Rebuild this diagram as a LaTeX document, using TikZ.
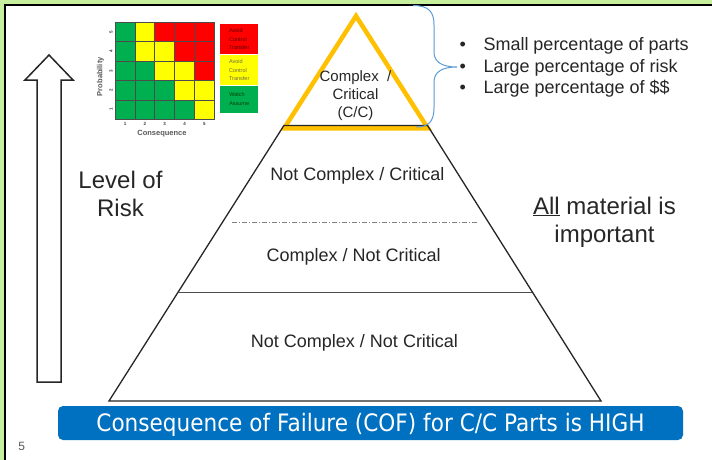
\documentclass[tikz,border=0pt]{standalone}
\usepackage{fontspec}
\setmainfont{Liberation Sans}
\newfontfamily\bannerfont[FakeStretch=0.9]{DejaVu Sans}
\usetikzlibrary{positioning}

\definecolor{frameGreen}{RGB}{198,239,158}
\definecolor{goldline}{RGB}{255,192,0}
\definecolor{bannerblue}{RGB}{0,112,192}
\definecolor{bracecol}{RGB}{91,155,213}
\definecolor{mgreen}{RGB}{0,176,80}
\definecolor{myellow}{RGB}{255,255,0}
\definecolor{mred}{RGB}{255,0,0}

\begin{document}
\begin{tikzpicture}[x=1pt,y=-1pt,
  pyrtxt/.style={font=\fontsize{18}{21}\selectfont, text=black!85, inner sep=0pt, anchor=base},
  bigtxt/.style={font=\fontsize{24}{28}\selectfont, text=black!85, inner sep=0pt, align=center},
  axlbl/.style={font=\fontsize{7.5}{9}\selectfont\bfseries, text=black!65, inner sep=0pt},
  ticklbl/.style={font=\fontsize{4.5}{5}\selectfont\bfseries, text=black!75, inner sep=0pt},
  legbox/.style={minimum width=38.3pt, inner sep=0pt, align=left, font=\fontsize{5.5}{8.5}\selectfont}]
\useasboundingbox (0,0) rectangle (712,460);
% slide frame
\fill[frameGreen] (0,0) rectangle (712,460);
\fill[white] (5,5) rectangle (712,460);
\draw[line width=2pt] (5,460) -- (5,5) -- (712,5);

% risk matrix
\fill[mgreen] (115,22.3) rectangle (214.3,119.3);
\fill[myellow] (134.9,22.3) rectangle (154.7,41.7);
\fill[mred] (154.7,22.3) rectangle (214.3,41.7);
\fill[myellow] (134.9,41.7) rectangle (174.6,61.1);
\fill[mred] (174.6,41.7) rectangle (214.3,61.1);
\fill[myellow] (154.7,61.1) rectangle (194.4,80.5);
\fill[mred] (194.4,61.1) rectangle (214.3,80.5);
\fill[myellow] (174.6,80.5) rectangle (214.3,99.9);
\fill[myellow] (194.4,99.9) rectangle (214.3,119.3);
\draw[black!70, line width=0.6pt] (115,22.3) rectangle (214.3,119.3);
\draw[black!70, line width=0.6pt] (134.9,22.3) -- (134.9,119.3);
\draw[black!70, line width=0.6pt] (154.7,22.3) -- (154.7,119.3);
\draw[black!70, line width=0.6pt] (174.6,22.3) -- (174.6,119.3);
\draw[black!70, line width=0.6pt] (194.4,22.3) -- (194.4,119.3);
\draw[black!70, line width=0.6pt] (115,41.7) -- (214.3,41.7);
\draw[black!70, line width=0.6pt] (115,61.1) -- (214.3,61.1);
\draw[black!70, line width=0.6pt] (115,80.5) -- (214.3,80.5);
\draw[black!70, line width=0.6pt] (115,99.9) -- (214.3,99.9);
\node[ticklbl, rotate=90] (p5) at (111,32) {5};
\node[ticklbl, rotate=90] (p4) at (111,51.4) {4};
\node[ticklbl, rotate=90] (p3) at (111,70.8) {3};
\node[ticklbl, rotate=90] (p2) at (111,90.2) {2};
\node[ticklbl, rotate=90] (p1) at (111,109.6) {1};
\node[ticklbl] (c1) at (125,123.5) {1};
\node[ticklbl] (c2) at (144.8,123.5) {2};
\node[ticklbl] (c3) at (164.7,123.5) {3};
\node[ticklbl] (c4) at (184.5,123.5) {4};
\node[ticklbl] (c5) at (204.4,123.5) {5};
\node[axlbl] (conseq) at (162,133.3) {Consequence};
\node[axlbl, rotate=90] (prob) at (100.5,76.7) {Probability};
\node[legbox, fill=mred, minimum height=30pt, text=red!35!black] (legred) at (239.2,39.3) {Avoid\\Control\\Transfer};
\node[legbox, fill=myellow, minimum height=30.7pt, text=yellow!35!black, below=0pt of legred] (legyel) {Avoid\\Control\\Transfer};
\node[legbox, fill=mgreen, minimum height=26.7pt, text=green!25!black, below=0pt of legyel] (leggrn) {Watch\\Assume};

% level of risk arrow
\draw[black!85, line width=1.5pt, fill=white] (37,382) -- (37,80) -- (25,80) -- (49,55) -- (73,80) -- (61,80) -- (61,382) -- cycle;
\node[bigtxt] (risk) at (120.5,194.2) {Level of\\Risk};

% pyramid
\coordinate (ytop) at (356,16);
\coordinate (yleft) at (284.1,128.3);
\coordinate (yright) at (427.9,128.3);
\coordinate (tl) at (283.9,125.5);
\coordinate (tr) at (427.5,125.5);
\coordinate (bl) at (109,401);
\coordinate (br) at (601,401);
\coordinate (ml) at (178.2,292);
\coordinate (mr) at (532.4,292);
\coordinate (dl) at (232,222);
\coordinate (dr) at (478,222);
\draw[goldline, line width=4.5pt, line join=miter] (ytop) -- (yright) -- (yleft) -- cycle;
\draw[black!85, line width=1.3pt] (tl) -- (bl) -- (br) -- (tr) -- cycle;
\draw[black!70, line width=1pt] (ml) -- (mr);
\draw[black!50, line width=0.7pt, dash pattern=on 5pt off 2pt on 1pt off 2pt] (dl) -- (dr);
\node[pyrtxt, font=\fontsize{15}{17.7}\selectfont, align=center, anchor=center] (cc) at (355.5,95.5) {Complex~ /\\Critical\\(C/C)};
\node[pyrtxt] (ncc) at (357.5,180.7) {Not Complex / Critical};
\node[pyrtxt] (cnc) at (353.7,261.7) {Complex / Not Critical};
\node[pyrtxt] (ncnc) at (354.5,347) {Not Complex / Not Critical};

% brace and bullets
\coordinate (btop) at (413,5.5);
\coordinate (btip) at (457,67);
\coordinate (bbot) at (416,127);
\draw[bracecol, line width=1pt] (btop) .. controls (429,5.5) and (434,12) .. (434,25) -- (434,52) .. controls (434,62) and (442,67) .. (btip) .. controls (442,67) and (434,72) .. (434,82) -- (434,108) .. controls (434,122) and (428,127) .. (bbot);
\node[anchor=west, align=left, inner sep=0pt, text=black!85, font=\fontsize{18}{21.3}\selectfont] (bul) at (459.5,67.5) {\makebox[23.8pt][l]{•}Small percentage of parts\\\makebox[23.8pt][l]{•}Large percentage of risk\\\makebox[23.8pt][l]{•}Large percentage of \$\$};

\node[bigtxt] (allmat) at (604.5,222) {\underline{All} material is\\important};

% banner
\node[fill=bannerblue, rounded corners=5pt, minimum width=625pt, minimum height=34pt, inner sep=0pt, text=white, font=\bannerfont\fontsize{24}{28}\selectfont, text height=17.5pt, text depth=0pt] (cof) at (370.5,423) {Consequence of Failure (COF) for C/C Parts is HIGH};
\node[font=\fontsize{12}{14}\selectfont, text=black!65, anchor=base, inner sep=0pt] (pgnum) at (21.7,450) {5};
\end{tikzpicture}
\end{document}
